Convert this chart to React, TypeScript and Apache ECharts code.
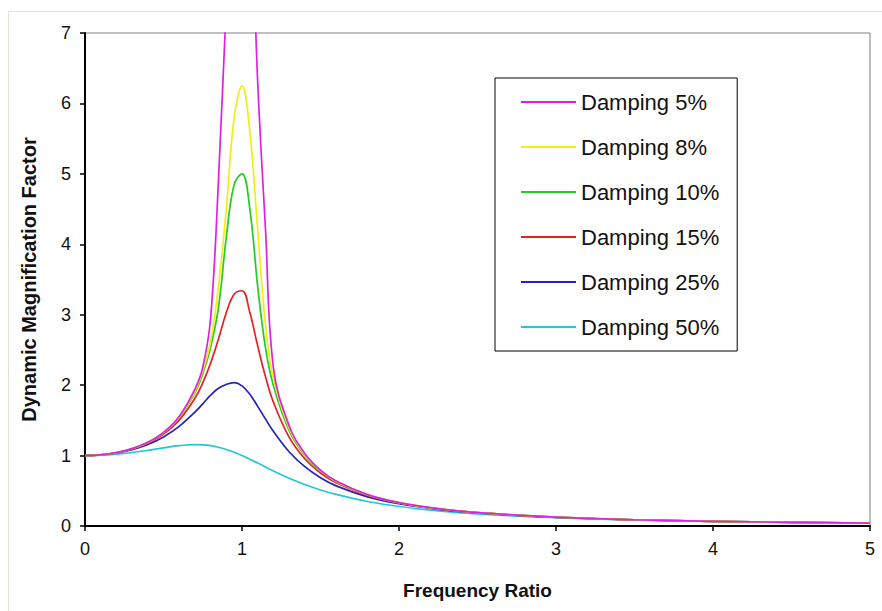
import React, { useEffect, useRef } from "react";
import * as echarts from "echarts";

// Frequency ratio (x) values
const freqRatio = [
  0, 0.1, 0.2, 0.3, 0.4, 0.5, 0.6, 0.7, 0.75, 0.8, 0.85, 0.9, 0.95, 1.0, 1.05,
  1.1, 1.15, 1.2, 1.3, 1.4, 1.5, 1.6, 1.8, 2.0, 2.25, 2.5, 3.0, 3.5, 4.0, 4.5, 5.0,
];

// Dynamic magnification factor
const damping5 = [
  1, 1.01, 1.041, 1.098, 1.189, 1.33, 1.556, 1.943, 2.25, 2.95, 4.9, 7.4, 9.6, 10.0, 9.2,
  6.3, 4.2, 2.25, 1.424, 1.031, 0.794, 0.638, 0.445, 0.333, 0.246, 0.19, 0.125, 0.089, 0.067, 0.052, 0.042,
];
const damping8 = [
  1, 1.01, 1.041, 1.097, 1.187, 1.326, 1.545, 1.915, 2.204, 2.62, 3.4, 4.5, 5.8, 6.25, 5.6,
  4.2, 2.85, 2.1, 1.388, 1.014, 0.786, 0.633, 0.443, 0.332, 0.245, 0.19, 0.125, 0.089, 0.067, 0.052, 0.042,
];
const damping10 = [
  1, 1.01, 1.041, 1.097, 1.185, 1.322, 1.536, 1.891, 2.162, 2.538, 3.1, 4.1, 4.85, 5.0, 4.5,
  3.4, 2.525, 1.995, 1.356, 1.0, 0.778, 0.628, 0.441, 0.33, 0.245, 0.19, 0.125, 0.089, 0.067, 0.052, 0.042,
];
const damping15 = [
  1, 1.01, 1.04, 1.094, 1.179, 1.307, 1.504, 1.813, 2.033, 2.311, 2.654, 3.029, 3.29, 3.34, 3.03,
  2.557, 2.118, 1.759, 1.262, 0.954, 0.753, 0.613, 0.434, 0.327, 0.243, 0.189, 0.124, 0.089, 0.066, 0.052, 0.042,
];
const damping25 = [
  1, 1.009, 1.036, 1.084, 1.158, 1.265, 1.415, 1.617, 1.735, 1.858, 1.955, 2.01, 2.035, 1.99, 1.87,
  1.699, 1.517, 1.344, 1.055, 0.842, 0.686, 0.57, 0.414, 0.316, 0.237, 0.185, 0.123, 0.088, 0.066, 0.052, 0.041,
];
const damping50 = [
  1, 1.005, 1.02, 1.044, 1.075, 1.109, 1.14, 1.155, 1.152, 1.14, 1.118, 1.087, 1.047, 1.0, 0.948,
  0.893, 0.837, 0.782, 0.679, 0.589, 0.512, 0.448, 0.348, 0.277, 0.215, 0.172, 0.117, 0.085, 0.064, 0.051, 0.041,
];

const seriesNames = [
  "Damping 5%",
  "Damping 8%",
  "Damping 10%",
  "Damping 15%",
  "Damping 25%",
  "Damping 50%",
];
const seriesValues = [damping5, damping8, damping10, damping15, damping25, damping50];
const seriesColors = ["#e020e0", "#f2ee10", "#22cc22", "#e82020", "#2424bb", "#22c8d8"];

const yTicks = [0, 7];
const xTicks = [0, 5];

const FONT = "'Liberation Sans', Arial, sans-serif";

export default function App() {
  const ref = useRef<HTMLDivElement>(null);

  useEffect(() => {
    const el = ref.current;
    if (!el) return;
    const chart = echarts.init(el, null, { renderer: "svg" });

    const series = seriesNames.map((name, i) => ({
      name,
      type: "line" as const,
      data: freqRatio.map((x, j) => [x, seriesValues[i][j]]),
      smooth: 0.4,
      symbol: "none",
      showSymbol: false,
      clip: true,
      lineStyle: { color: seriesColors[i], width: 1.7 },
      itemStyle: { color: seriesColors[i] },
      z: 10 - i,
    }));

    chart.setOption({
      animation: false,
      backgroundColor: "#ffffff",
      textStyle: { fontFamily: FONT },
      graphic: [
        {
          type: "rect",
          silent: true,
          z: -10,
          shape: { x: 8.5, y: 11.5, width: 1000, height: 1000 },
          style: { fill: "none", stroke: "#e8e0d2", lineWidth: 1 },
        },
      ],
      grid: {
        left: 85,
        top: 33,
        right: 12,
        bottom: 85,
        show: true,
        borderColor: "#808080",
        borderWidth: 1,
        backgroundColor: "transparent",
      },
      legend: {
        orient: "vertical",
        left: 495,
        top: 78,
        padding: [13, 18, 13, 26],
        icon: "rect",
        itemWidth: 55,
        itemHeight: 2,
        itemGap: 23,
        borderColor: "#000000",
        borderWidth: 1,
        backgroundColor: "#ffffff",
        textStyle: { fontFamily: FONT, fontSize: 22, color: "#111111", lineHeight: 22 },
        data: seriesNames,
      },
      xAxis: {
        type: "value",
        min: xTicks[0],
        max: xTicks[1],
        interval: 1,
        name: "Frequency Ratio",
        nameLocation: "middle",
        nameGap: 55,
        nameTextStyle: { fontFamily: FONT, fontSize: 19, fontWeight: "bold", color: "#111111" },
        axisLine: { show: true, onZero: false, lineStyle: { color: "#000000", width: 2 } },
        axisTick: { show: true, length: 5, inside: false, lineStyle: { color: "#000000", width: 1.5 } },
        axisLabel: { fontFamily: FONT, fontSize: 18, color: "#111111", margin: 14 },
        splitLine: { show: false },
      },
      yAxis: {
        type: "value",
        min: yTicks[0],
        max: yTicks[1],
        interval: 1,
        name: "Dynamic Magnification Factor",
        nameLocation: "middle",
        nameGap: 46,
        nameTextStyle: { fontFamily: FONT, fontSize: 20, fontWeight: "bold", color: "#111111" },
        axisLine: { show: true, onZero: false, lineStyle: { color: "#000000", width: 2 } },
        axisTick: { show: true, length: 5, inside: false, lineStyle: { color: "#000000", width: 1.5 } },
        axisLabel: { fontFamily: FONT, fontSize: 18, color: "#111111", margin: 14 },
        splitLine: { show: false },
      },
      series,
    });

    return () => chart.dispose();
  }, []);

  return (
    <div
      ref={ref}
      style={{ position: "absolute", left: 0, top: 0, width: 882, height: 611, background: "#ffffff" }}
    />
  );
}
